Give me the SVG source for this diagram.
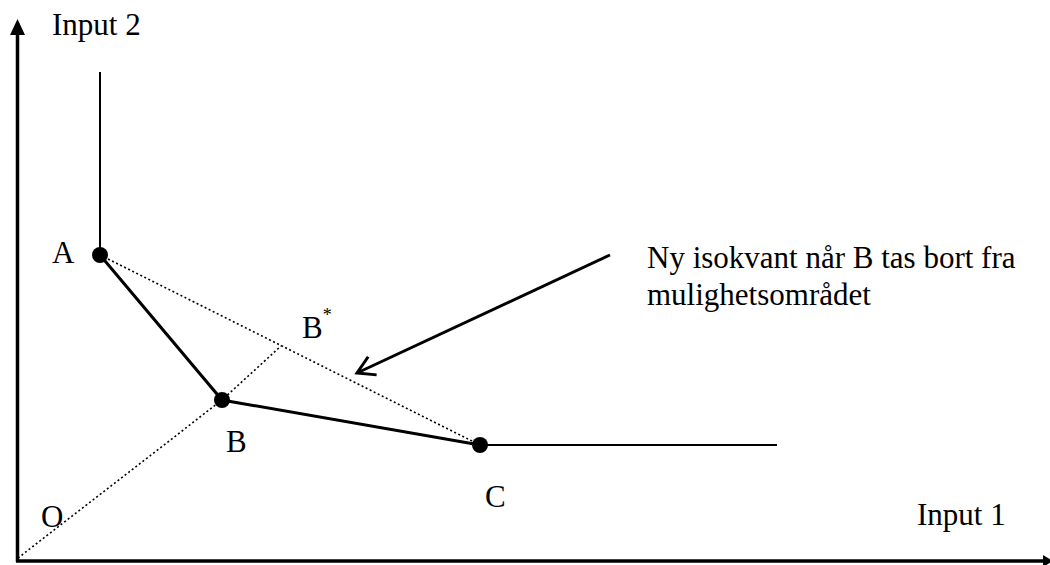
<svg xmlns="http://www.w3.org/2000/svg" width="1050" height="565" viewBox="0 0 1050 565">
  <style>
    text { font-family: "Liberation Serif", "Times New Roman", serif; font-size: 31px; fill: #000; }
    .axis { stroke: #000; stroke-width: 3.5; fill: none; }
    .solid { stroke: #000; stroke-width: 3; fill: none; }
    .thin { stroke: #000; stroke-width: 2; fill: none; }
    .dot { stroke: #000; stroke-width: 1.6; stroke-dasharray: 2 2.5; fill: none; }
    .pt { fill: #000; }
  </style>
  <defs>
    <marker id="open" markerUnits="userSpaceOnUse" markerWidth="30" markerHeight="30" viewBox="-20 -15 25 30" refX="0" refY="0" orient="auto">
      <path d="M-17,-10 L0,0 L-17,10" stroke="#000" stroke-width="3" fill="none"/>
    </marker>
  </defs>

  <g id="axes">
    <line class="axis" x1="17.5" y1="34" x2="17.5" y2="562"/>
    <polygon points="17.5,19 10,35 25,35" fill="#000"/>
    <line class="axis" x1="16" y1="561" x2="1044" y2="561"/>
    <polygon points="1053,561 1043,555 1043,567" fill="#000"/>
    <text x="52" y="35">Input 2</text>
    <text x="917" y="525">Input 1</text>
  </g>

  <g id="connectors">
    <line class="thin" x1="100" y1="72" x2="100" y2="255"/>
    <polyline class="solid" points="100,255 222,400 480,445"/>
    <line class="thin" x1="480" y1="445" x2="777" y2="445"/>
    <line class="dot" x1="100" y1="255" x2="480" y2="445"/>
    <polyline class="dot" points="18,558 222,400 281,346"/>
    <line class="solid" x1="610" y1="255" x2="357" y2="373" marker-end="url(#open)"/>
  </g>

  <g id="node-A">
    <circle class="pt" cx="100" cy="255" r="8"/>
    <text x="52" y="263">A</text>
  </g>
  <g id="node-B">
    <circle class="pt" cx="222" cy="400" r="8"/>
    <text x="226" y="452">B</text>
  </g>
  <g id="node-C">
    <circle class="pt" cx="480" cy="445" r="8"/>
    <text x="485" y="507">C</text>
  </g>
  <g id="node-O">
    <text x="41" y="527">O</text>
  </g>
  <g id="node-Bstar">
    <text x="302" y="338">B<tspan font-size="18" dy="-17">*</tspan></text>
  </g>
  <g id="label-new-isoquant">
    <text x="647" y="268">Ny isokvant når B tas bort fra</text>
    <text x="647" y="305">mulighetsområdet</text>
  </g>
</svg>
